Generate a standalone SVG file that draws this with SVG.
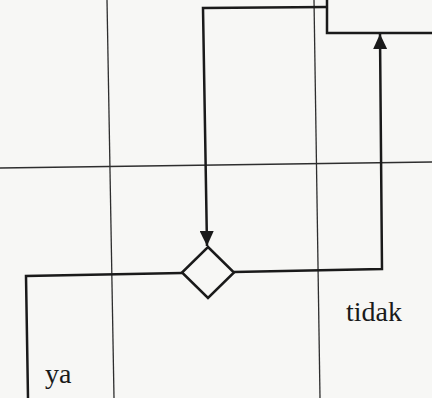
<svg xmlns="http://www.w3.org/2000/svg" width="432" height="398" viewBox="0 0 432 398">
  <style>
    .grid { stroke: #2e2e2e; stroke-width: 1.3; fill: none; }
    .conn { stroke: #1a1a1a; stroke-width: 2.5; fill: none; stroke-linejoin: miter; }
    .shape { stroke: #1a1a1a; stroke-width: 2.5; fill: #f7f7f5; }
    .label { font-family: "Liberation Serif", "Times New Roman", serif; font-size: 28px; fill: #1a1a1a; }
  </style>
  <defs>
    <marker id="arrow" viewBox="0 0 15 14" refX="15" refY="7" markerWidth="15" markerHeight="14" markerUnits="userSpaceOnUse" orient="auto">
      <path d="M0,0 L15,7 L0,14 Z" fill="#1a1a1a"/>
    </marker>
  </defs>
  <rect x="0" y="0" width="432" height="398" fill="#f7f7f5"/>
  <g id="grid">
    <line class="grid" x1="107" y1="0" x2="114" y2="398"/>
    <line class="grid" x1="314" y1="0" x2="320" y2="398"/>
    <line class="grid" x1="0" y1="168" x2="432" y2="162"/>
  </g>
  <g id="box">
    <path class="shape" d="M327,-3 L327,33 L435,33 L435,-3 Z"/>
  </g>
  <g id="connectors">
    <path class="conn" d="M327,7 L203,8 L207,246" marker-end="url(#arrow)"/>
    <path class="conn" d="M234,272 L382,269 L380,34" marker-end="url(#arrow)"/>
    <path class="conn" d="M182,273 L26,276 L28,398"/>
  </g>
  <g id="decision">
    <path class="shape" d="M208,247 L234,272.5 L208,298 L182,272.5 Z"/>
  </g>
  <g id="labels">
    <text class="label" x="346" y="321">tidak</text>
    <text class="label" x="45" y="383">ya</text>
  </g>
</svg>
